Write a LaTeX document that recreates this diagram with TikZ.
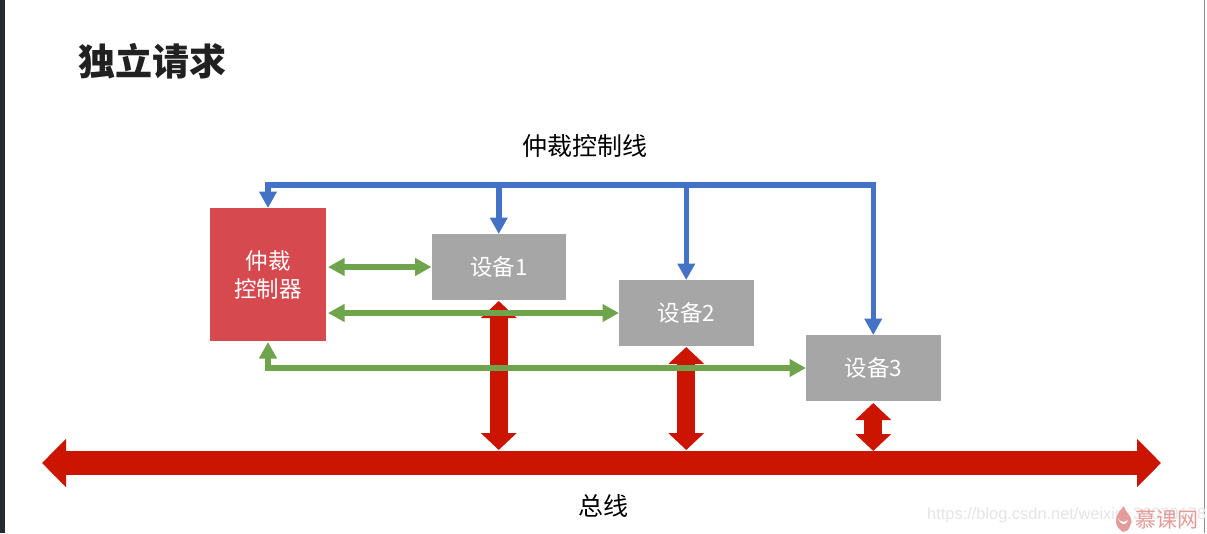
\documentclass[tikz,border=0pt]{standalone}
\usepackage{fontspec}
\setmainfont{Noto Sans CJK SC}
\setsansfont{Liberation Sans}
\usetikzlibrary{positioning,arrows.meta,calc}
\definecolor{modra}{HTML}{4472C4}
\definecolor{zelena}{HTML}{70A44C}
\definecolor{cervena}{HTML}{CB1500}
\definecolor{rozhod}{HTML}{D6494F}
\definecolor{seda}{HTML}{A6A6A6}
\definecolor{okraj}{HTML}{272C31}
\definecolor{znacka}{HTML}{E39C9A}
\tikzset{
  rozh/.style={rectangle,fill=rozhod,text=white,minimum width=116pt,minimum height=133pt,inner sep=1pt,outer sep=0pt,align=center,font=\fontsize{22.5}{28}\selectfont},
  zariz/.style={rectangle,fill=seda,text=white,minimum width=134.5pt,minimum height=66pt,inner sep=1pt,outer sep=0pt,font=\fontsize{22.5}{26}\selectfont},
  popis/.style={inner sep=0pt,text=black,font=\fontsize{25}{30}\selectfont},
  sipM/.style={line width=5.5pt,draw=modra,{Triangle[length=16.5pt,width=17pt]}-{Triangle[length=16.5pt,width=17pt]}},
  sipMk/.style={line width=5.5pt,draw=modra,-{Triangle[length=16.5pt,width=17pt]}},
  sipZ/.style={line width=5.5pt,draw=zelena,{Triangle[length=16.5pt,width=17pt]}-{Triangle[length=16.5pt,width=17pt]}},
  sipC/.style={line width=18pt,draw=cervena,{Triangle[length=17pt,width=35pt]}-{Triangle[length=17pt,width=35pt]}},
  sbernice/.style={line width=24pt,draw=cervena,{Triangle[length=24pt,width=47pt]}-{Triangle[length=24pt,width=47pt]}},
}

\begin{document}
\begin{tikzpicture}[x=1pt,y=-1pt]
  \useasboundingbox (0,0) rectangle (1207,533);
  \fill[white] (0,0) rectangle (1207,533);
  \fill[okraj] (0,0) rectangle (5,533);
  \fill[black!45] (1203.5,0) rectangle (1205,533);

  \node[inner sep=0pt,text=black!87,font=\fontsize{37}{40}\selectfont\bfseries] (nadpis) at (152,61) {独立请求};
  \node[popis] (lblrozh) at (585,146) {仲裁控制线};
  \node[popis] (lblbus) at (603,506) {总线};

  \node[rozh] (arb) at (268,274.5) {仲裁\\控制器};
  \node[zariz] (dev1) [right=105.5pt of arb,yshift=7.5pt] {设备1};
  \node[zariz] (dev2) [below right=-20pt and 53pt of dev1] {设备2};
  \node[zariz] (dev3) [below right=-11pt and 52.5pt of dev2] {设备3};

  \coordinate (busL) at (42,463); \coordinate (busR) at (1161,463);
  \coordinate (linkaM) at (dev1.north |- 0,185);

  \draw[sbernice] (busL)--(busR);
  \draw[sipC] ($(dev1.south)+(0,1)$)--(dev1.south |- 0,450);
  \draw[sipC] ($(dev2.south)+(0,1)$)--(dev2.south |- 0,450);
  \draw[sipC] ($(dev3.south)+(0,2)$)--(dev3.south |- 0,451);

  \draw[sipM] (arb.north) |- (linkaM) -| (dev3.north);
  \draw[sipMk] (linkaM)--(dev1.north);
  \draw[sipMk] (dev2.north |- linkaM)--(dev2.north);

  \draw[sipZ] ($(arb.east |- dev1)+(2,0)$)--(dev1.west);
  \draw[sipZ] ($(arb.east |- dev2)+(2,0)$)--(dev2.west);
  \draw[sipZ] ($(arb.south)+(0,1)$) |- (dev3.west);

  % znacka vpravo dole
  \node[inner sep=0pt,anchor=west,text=black!10,font=\sffamily\fontsize{16.4}{20}\selectfont] (url) at (927,515) {https://blog.csdn.net/weixin\_36039178};
  \fill[znacka] (1123,532) .. controls (1112,525) and (1115,515) .. (1124,506) .. controls (1125,513) and (1135,517) .. (1130,526) .. controls (1129,530) and (1126,532) .. (1123,532) -- cycle;
  \fill[white] (1118,518) .. controls (1120,522) and (1124,523) .. (1128,520) .. controls (1126,526) and (1121,526) .. (1118,518) -- cycle;
  \node[inner sep=0pt,text=znacka,font=\fontsize{21}{24}\selectfont] (logo) at (1167,520) {慕课网};
\end{tikzpicture}
\end{document}
